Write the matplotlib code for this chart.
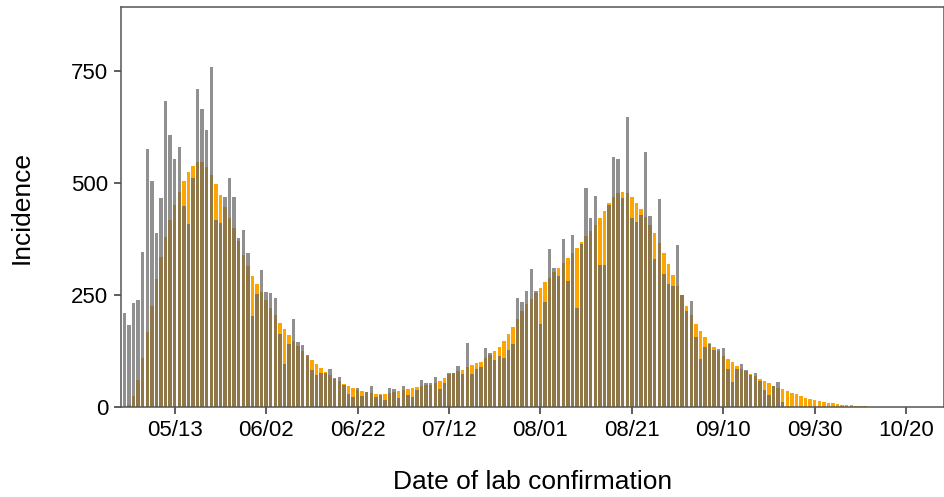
import matplotlib
matplotlib.use("Agg")
import matplotlib.pyplot as plt
import matplotlib.dates as mdates
import pandas as pd

plt.rcParams['font.family'] = ['Liberation Sans', 'DejaVu Sans']

# daily confirmed cases (grey), from 05/02
observed = [211, 183, 233, 239, 345, 575, 505, 388, 467, 682,
            607, 554, 581, 449, 409, 511, 710, 666, 618, 760,
            418, 410, 468, 512, 468, 377, 396, 343, 203, 253,
            305, 257, 254, 244, 164, 97, 141, 196, 145, 138,
            117, 83, 71, 75, 77, 86, 65, 68, 49, 29,
            23, 42, 25, 33, 48, 22, 27, 16, 42, 40,
            21, 46, 26, 22, 38, 61, 54, 54, 68, 40,
            54, 75, 77, 91, 73, 144, 73, 84, 89, 131,
            121, 105, 114, 110, 127, 140, 244, 234, 258, 308,
            258, 185, 234, 352, 310, 293, 374, 281, 383, 222,
            364, 490, 421, 471, 317, 317, 451, 557, 553, 466,
            647, 422, 413, 429, 570, 426, 330, 465, 297, 275,
            270, 361, 250, 214, 237, 157, 107, 135, 141, 127,
            130, 132, 86, 57, 85, 96, 83, 71, 75, 58,
            38, 27, 48, 55, 12]

# estimated incidence (orange), from 05/02
estimated = [1, 5, 25, 60, 110, 167, 226, 285, 336, 380,
             417, 451, 479, 504, 525, 539, 546, 546, 536, 519,
             497, 473, 446, 423, 400, 370, 340, 315, 293, 274,
             257, 239, 222, 205, 188, 175, 161, 148, 136, 126,
             115, 105, 97, 87, 79, 71, 63, 58, 52, 47,
             42, 38, 36, 33, 31, 30, 30, 30, 32, 34,
             36, 39, 40, 43, 45, 47, 49, 50, 54, 59,
             64, 74, 77, 80, 83, 89, 94, 98, 101, 109,
             116, 124, 133, 147, 163, 179, 196, 214, 230, 242,
             255, 266, 278, 289, 301, 311, 322, 333, 344, 356,
             368, 381, 394, 406, 423, 438, 455, 469, 478, 480,
             478, 468, 456, 441, 425, 406, 388, 366, 343, 319,
             295, 270, 250, 225, 205, 185, 170, 157, 144, 133,
             124, 115, 107, 100, 92, 86, 80, 74, 69, 62,
             58, 54, 47, 42, 40, 36, 32, 28, 25, 21,
             19, 16, 13, 12, 10, 8, 7, 5, 4.5, 3.7,
             3, 2, 1.5, 1]

start = pd.Timestamp('2020-05-02')
obs_dates = pd.date_range(start, periods=len(observed), freq='D')
est_dates = pd.date_range(start, periods=len(estimated), freq='D')
tick_dates = pd.date_range('2020-05-13', periods=9, freq='20D')

fig = plt.figure(figsize=(9.45, 4.97), dpi=100)
ax = fig.add_axes([0.128, 0.181, 0.871, 0.805])

ax.bar(est_dates, estimated, width=0.75, color='#ffa500', linewidth=0)
ax.bar(obs_dates, observed, width=0.75, color='#666666', alpha=0.72, linewidth=0)

ax.set_xlim(start - pd.Timedelta(days=0.77), start + pd.Timedelta(days=179.3))
ax.set_ylim(0, 893)
ax.set_yticks([0, 250, 500, 750])
ax.set_xticks(tick_dates)
ax.xaxis.set_major_formatter(mdates.DateFormatter('%m/%d'))

for s in ax.spines.values():
    s.set_color('#555555')
    s.set_linewidth(1.1)
ax.tick_params(axis='both', labelsize=16, length=5, width=1.1, color='#333333',
               labelcolor='black', pad=4)

ax.set_ylabel('Incidence', fontsize=19, labelpad=27)
ax.set_xlabel('Date of lab confirmation', fontsize=19, labelpad=21)

fig.savefig('out.png', dpi=100)
